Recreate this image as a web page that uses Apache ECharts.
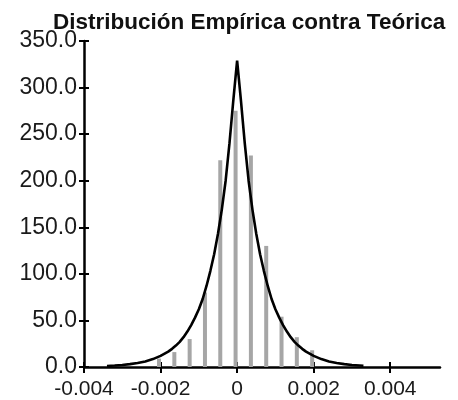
<!DOCTYPE html>
<html>
<head>
<meta charset="utf-8">
<script src="https://cdn.jsdelivr.net/npm/echarts@6/dist/echarts.min.js"></script>
<style>
html,body{margin:0;padding:0;background:#fff;}
#chart{width:458px;height:400px;}
</style>
</head>
<body>
<div id="chart"></div>
<script>
// ---- data ----
const titleText = "Distribución Empírica contra Teórica";
const xTickValues = [-0.004, -0.002, 0, 0.002, 0.004];
const yTickValues = [0, 50, 100, 150, 200, 250, 300, 350];

// empirical histogram (bin centre, density)
const binCenters = [-0.00204, -0.00164, -0.00124, -0.00084, -0.00044, -0.00004, 0.00036, 0.00076, 0.00116, 0.00156, 0.00196];
const binHeights = [9, 16, 30, 80, 222, 275, 227, 130, 54, 32, 18];

// theoretical density curve (x, density)
const curveX = [-0.0034, -0.0032, -0.0030, -0.0028, -0.0026, -0.0024, -0.0022, -0.0020, -0.0018, -0.0017, -0.0016, -0.0015, -0.0014, -0.0013, -0.0012, -0.0011, -0.0010, -0.0009, -0.0008, -0.0007, -0.0006, -0.0005, -0.0004, -0.0003, -0.0002, -0.0001, 0,
                0.0001, 0.0002, 0.0003, 0.0004, 0.0005, 0.0006, 0.0007, 0.0008, 0.0009, 0.0010, 0.0011, 0.0012, 0.0013, 0.0014, 0.0015, 0.0016, 0.0017, 0.0018, 0.0020, 0.0022, 0.0024, 0.0026, 0.0028, 0.0030, 0.0032, 0.0033];
const curveY = [1.1, 1.6, 2.2, 3.1, 4.3, 6, 8.5, 12, 16.5, 19.5, 23, 27, 32, 38, 45, 53, 62, 73, 87, 103, 121, 143, 169, 200, 240, 286, 329,
                286, 240, 200, 169, 143, 121, 103, 87, 73, 62, 53, 45, 38, 32, 27, 23, 19.5, 16.5, 12, 8.5, 6, 4.3, 3.1, 2.2, 1.6, 1.3];

const X_MIN = -0.004, X_MAX = 0.0053, Y_MIN = 0, Y_MAX = 350;

const barData = binCenters.map((x, i) => [x, binHeights[i]]);
const lineData = curveX.map((x, i) => [x, curveY[i]]);

const FONT = "Liberation Sans, Arial, sans-serif";
const xFmt = v => (Math.abs(v) < 1e-12 ? "0" : v.toFixed(3));

const chart = echarts.init(document.getElementById('chart'), null, {renderer: 'canvas'});
chart.setOption({
  animation: false,
  backgroundColor: '#ffffff',
  title: {
    text: titleText,
    left: 53, top: 11, padding: 0,
    textStyle: {fontFamily: FONT, fontSize: 22.5, fontWeight: 'bold', color: '#111'}
  },
  grid: {left: 84, right: 18, top: 41, bottom: 33, containLabel: false},
  xAxis: [{
    type: 'value', min: X_MIN, max: X_MAX, position: 'bottom',
    splitLine: {show: false},
    axisLine: {show: true, onZero: false, lineStyle: {color: '#000', width: 2.5}},
    axisTick: {show: true, inside: false, length: 6, customValues: xTickValues, lineStyle: {color: '#000', width: 2}},
    axisLabel: {show: true, margin: 12, customValues: xTickValues, formatter: xFmt,
      fontFamily: FONT, fontSize: 21, color: '#1a1a1a'}
  }, {
    type: 'value', min: X_MIN, max: X_MAX, position: 'bottom',
    splitLine: {show: false},
    axisLine: {show: false, onZero: false},
    axisTick: {show: true, inside: true, length: 5, customValues: xTickValues, lineStyle: {color: '#000', width: 2}},
    axisLabel: {show: false}
  }],
  yAxis: [{
    type: 'value', min: Y_MIN, max: Y_MAX, interval: 50, position: 'left',
    splitLine: {show: false},
    axisLine: {show: true, onZero: false, lineStyle: {color: '#000', width: 2.5}},
    axisTick: {show: true, inside: false, length: 5, lineStyle: {color: '#000', width: 2}},
    axisLabel: {show: true, margin: 7, formatter: v => v.toFixed(1),
      fontFamily: FONT, fontSize: 23, color: '#1a1a1a'}
  }, {
    type: 'value', min: Y_MIN, max: Y_MAX, interval: 50, position: 'left',
    splitLine: {show: false},
    axisLine: {show: false, onZero: false},
    axisTick: {show: true, inside: true, length: 5, lineStyle: {color: '#000', width: 2}},
    axisLabel: {show: false}
  }],
  series: [{
    type: 'bar', xAxisIndex: 0, yAxisIndex: 0,
    data: barData, barWidth: 4,
    itemStyle: {color: '#a6a6a6'},
    z: 1
  }, {
    type: 'line', xAxisIndex: 0, yAxisIndex: 0,
    data: lineData, showSymbol: false, smooth: false,
    lineStyle: {color: '#000', width: 2.6},
    z: 3
  }]
});
</script>
</body>
</html>
